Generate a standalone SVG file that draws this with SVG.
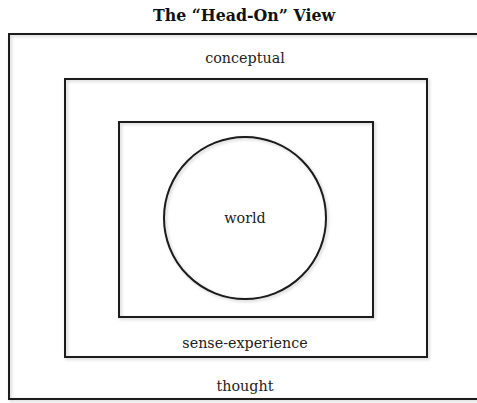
<svg xmlns="http://www.w3.org/2000/svg" width="477" height="403" viewBox="0 0 477 403">
<style>
.box{fill:none;stroke:#1a1a1a;stroke-width:2;}
.lbl{font-family:"DejaVu Serif","Liberation Serif",serif;font-size:14.3px;fill:#222;text-anchor:middle;}
.title{font-family:"DejaVu Serif","Liberation Serif",serif;font-size:15.8px;font-weight:bold;fill:#111;text-anchor:middle;}
</style>
<defs>
<filter id="sh" x="-5%" y="-5%" width="110%" height="110%">
<feDropShadow dx="1.5" dy="1.5" stdDeviation="1.5" flood-color="#000" flood-opacity="0.2"/>
</filter>
</defs>
<rect width="477" height="403" fill="#fff"/>
<text class="title" x="244" y="21">The “Head-On” View</text>
<g id="thought">
<rect class="box" x="9" y="34" width="480" height="365" filter="url(#sh)"/>
<text class="lbl" x="245" y="391">thought</text>
</g>
<g id="conceptual-label">
<text class="lbl" x="245" y="63">conceptual</text>
</g>
<g id="sense-experience">
<rect class="box" x="65" y="79" width="362" height="278" filter="url(#sh)"/>
<text class="lbl" x="245" y="348">sense-experience</text>
</g>
<g id="inner">
<rect class="box" x="119" y="122" width="254" height="195" filter="url(#sh)"/>
</g>
<g id="world">
<circle class="box" cx="245" cy="218" r="81" filter="url(#sh)"/>
<text class="lbl" x="245" y="223">world</text>
</g>
<g id="connectors"></g>
</svg>
